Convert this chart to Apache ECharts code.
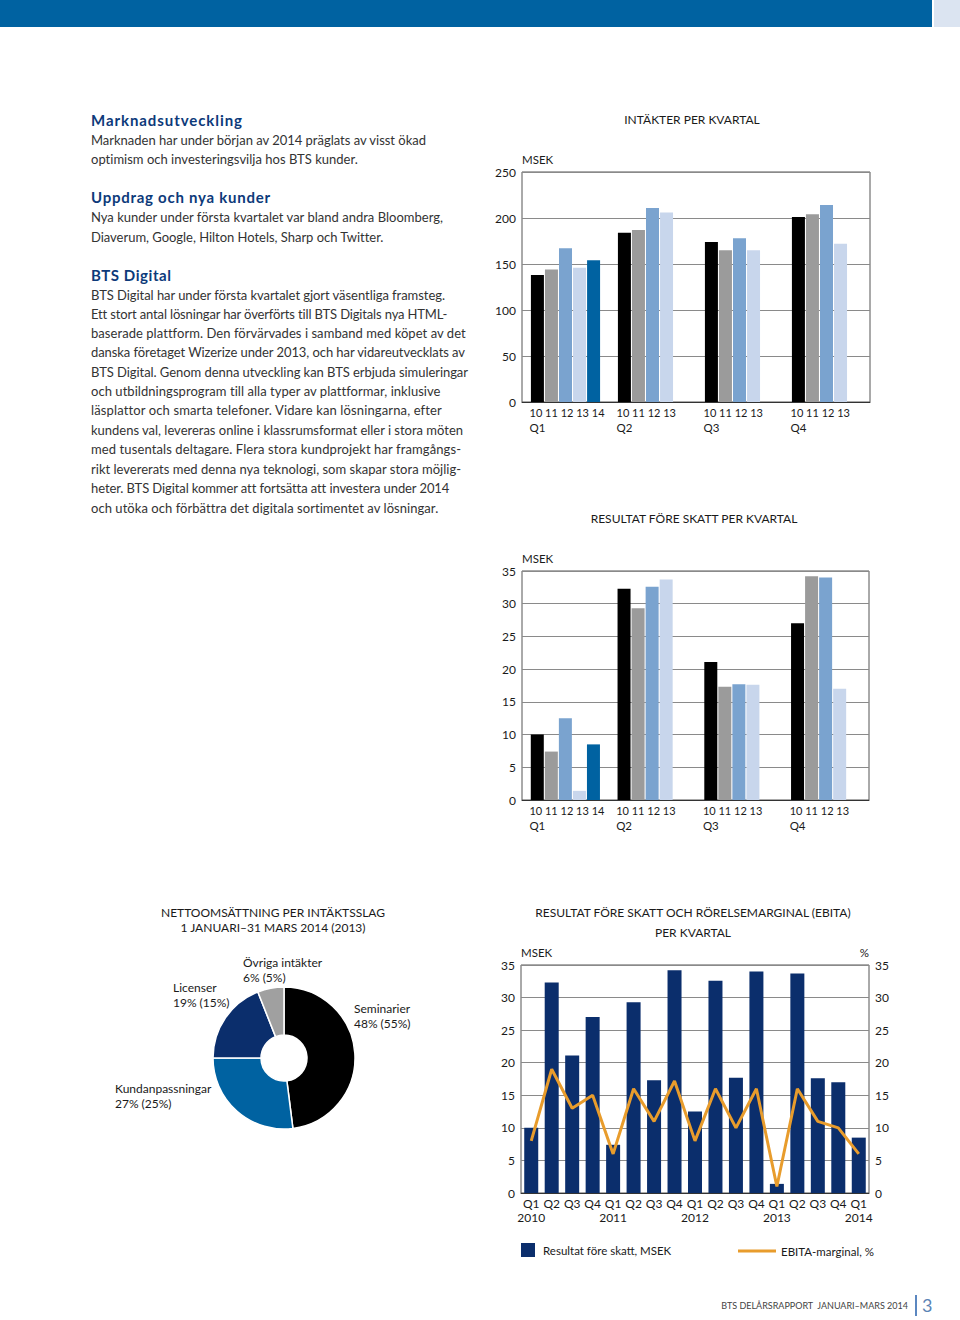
<!DOCTYPE html>
<html><head><meta charset="utf-8">
<script src="https://cdn.jsdelivr.net/npm/echarts@6/dist/echarts.min.js"></script>
<style>
html,body{margin:0;padding:0;background:#fff;}
body{width:960px;height:1320px;position:relative;overflow:hidden;font-family:Lato,'Open Sans',sans-serif;}
#chart{position:absolute;left:0;top:0;width:960px;height:1320px;}
.hdr{position:absolute;left:0;top:0;width:932px;height:27px;background:#0062a1;}
.hdr2{position:absolute;left:934px;top:0;width:26px;height:27px;background:#dbe4f1;}
.ln{position:absolute;white-space:nowrap;font-size:13px;color:#333;line-height:19px;height:19px;}
.hd{font-weight:700;color:#0d3a7a;font-size:15px;}
.foot{position:absolute;white-space:nowrap;font-size:9px;color:#444;line-height:12px;}
.pg{position:absolute;left:922px;top:1294px;font-size:18px;color:#5b83b5;line-height:22px;}
.bar{position:absolute;left:915px;top:1295px;width:2px;height:21px;background:#5b87c0;}
</style></head>
<body>
<div class="hdr"></div><div class="hdr2"></div>
<div id="chart"></div>
<div id="text"></div>
<div class="foot" id="foot">BTS DELÅRSRAPPORT&nbsp;&nbsp;JANUARI–MARS 2014</div>
<div class="bar"></div><div class="pg">3</div>
<script>
// ---------- DATA ----------
const quarters = ['Q1', 'Q2', 'Q3', 'Q4'];
const yearNames = ['10', '11', '12', '13', '14'];
const yearLabels = ['10 11 12 13 14', '10 11 12 13', '10 11 12 13', '10 11 12 13'];

const rev2010 = [138, 184, 174, 201];
const rev2011 = [144, 187, 165, 204];
const rev2012 = [167, 211, 178, 214];
const rev2013 = [146, 206, 165, 172];
const rev2014 = [154, null, null, null];

const ebt2010 = [10.0, 32.3, 21.1, 27.0];
const ebt2011 = [7.4, 29.3, 17.3, 34.2];
const ebt2012 = [12.5, 32.6, 17.7, 34.0];
const ebt2013 = [1.4, 33.7, 17.6, 17.0];
const ebt2014 = [8.5, null, null, null];

const periodQuarters = ['Q1','Q2','Q3','Q4','Q1','Q2','Q3','Q4','Q1','Q2','Q3','Q4','Q1','Q2','Q3','Q4','Q1'];
const periodYears = ['2010','','','','2011','','','','2012','','','','2013','','','','2014'];
const ebtSeries = [10.0, 32.3, 21.1, 27.0, 7.4, 29.3, 17.3, 34.2, 12.5, 32.6, 17.7, 34.0, 1.4, 33.7, 17.6, 17.0, 8.5];
const ebitaMargin = [8, 19, 13, 15, 6, 16, 11, 17.2, 8, 16, 10, 16, 1, 16, 11, 10, 6];

const pieNames = ['Seminarier', 'Kundanpassningar', 'Licenser', 'Övriga intäkter'];
const pieValues = [48, 27, 19, 6];
const piePrev = [55, 25, 15, 5];

// ---------- TEXT ----------
const textLines = [
 ['Marknadsutveckling', 121, 242, 1],
 ['Marknaden har under början av 2014 präglats av visst ökad', 141, 426, 0],
 ['optimism och investeringsvilja hos BTS kunder.', 160, 358, 0],
 ['Uppdrag och nya kunder', 198, 270, 1],
 ['Nya kunder under första kvartalet var bland andra Bloomberg,', 218, 443, 0],
 ['Diaverum, Google, Hilton Hotels, Sharp och Twitter.', 238, 383, 0],
 ['BTS Digital', 276, 171, 1],
 ['BTS Digital har under första kvartalet gjort väsentliga framsteg.', 296, 445, 0],
 ['Ett stort antal lösningar har överförts till BTS Digitals nya HTML-', 315, 447, 0],
 ['baserade plattform. Den förvärvades i samband med köpet av det', 334, 465, 0],
 ['danska företaget Wizerize under 2013, och har vidareutvecklats av', 353, 465, 0],
 ['BTS Digital. Genom denna utveckling kan BTS erbjuda simuleringar', 373, 468, 0],
 ['och utbildningsprogram till alla typer av plattformar, inklusive', 392, 440, 0],
 ['läsplattor och smarta telefoner. Vidare kan lösningarna, efter', 411, 441, 0],
 ['kundens val, levereras online i klassrumsformat eller i stora möten', 431, 463, 0],
 ['med tusentals deltagare. Flera stora kundprojekt har framgångs-', 450, 461, 0],
 ['rikt levererats med denna nya teknologi, som skapar stora möjlig-', 470, 461, 0],
 ['heter. BTS Digital kommer att fortsätta att investera under 2014', 489, 448, 0],
 ['och utöka och förbättra det digitala sortimentet av lösningar.', 509, 438, 0]
];
const tdiv = document.getElementById('text');
textLines.forEach(function (l) {
  const s = document.createElement('span');
  s.className = 'ln' + (l[3] ? ' hd' : '');
  s.textContent = l[0];
  s.style.left = '91px';
  s.style.top = (l[1] - 10) + 'px';
  tdiv.appendChild(s);
  const w = s.getBoundingClientRect().width;
  const target = l[2] - 91;
  const ls = (target - w) / Math.max(1, l[0].length - 1);
  s.style.letterSpacing = Math.max(-1.2, Math.min(1.2, ls)) + 'px';
});
(function () {
  const f = document.getElementById('foot');
  f.style.top = '1300px';
  const w = f.getBoundingClientRect().width;
  f.style.left = (908 - w) + 'px';
})();

// ---------- CHART ----------
const FONT = 'Lato';
const TXT = '#1a1a1a';
const colors = ['#000000', '#9b9b9b', '#7aa3cf', '#c8d6ec', '#0062a1'];
const chart = echarts.init(document.getElementById('chart'), null, {renderer: 'svg'});

function groupedAxisLabel() {
  return {
    interval: 0, margin: 3, color: TXT, fontFamily: FONT,
    formatter: function (v, i) { return '{n|' + yearLabels[i] + '}\n{q|' + v + '}'; },
    rich: {
      n: {width: 72, align: 'left', fontSize: 11, lineHeight: 14, fontFamily: FONT, color: TXT},
      q: {width: 72, align: 'left', fontSize: 11.5, lineHeight: 16, fontFamily: FONT, color: TXT}
    }
  };
}
function valueAxis(grid, max, interval, extra) {
  return Object.assign({
    type: 'value', gridIndex: grid, min: 0, max: max, interval: interval,
    axisLine: {show: false}, axisTick: {show: false},
    axisLabel: {color: TXT, fontSize: 12, margin: 6, fontFamily: FONT},
    splitLine: {show: true, lineStyle: {color: '#8a8a8a', width: 1}},
    nameTextStyle: {color: TXT, fontSize: 11.5, fontFamily: FONT, align: 'left'},
    nameGap: 7
  }, extra || {});
}
const catAxisBase = {
  type: 'category', axisTick: {show: false},
  axisLine: {show: true, lineStyle: {color: '#333', width: 1}}
};

const rev = [rev2010, rev2011, rev2012, rev2013, rev2014];
const ebt = [ebt2010, ebt2011, ebt2012, ebt2013, ebt2014];

const series = [];
rev.forEach(function (d, k) {
  series.push({type: 'bar', name: 'rev' + yearNames[k], xAxisIndex: 0, yAxisIndex: 0, data: d,
    barWidth: 13, barGap: '8%', itemStyle: {color: colors[k]}, silent: true});
});
ebt.forEach(function (d, k) {
  series.push({type: 'bar', name: 'ebt' + yearNames[k], xAxisIndex: 1, yAxisIndex: 1, data: d,
    barWidth: 13, barGap: '8%', itemStyle: {color: colors[k]}, silent: true});
});
series.push({type: 'bar', name: 'Resultat före skatt, MSEK', xAxisIndex: 2, yAxisIndex: 2, data: ebtSeries,
  barWidth: 14, itemStyle: {color: '#0b2e6c'}, silent: true});
series.push({type: 'line', name: 'EBITA-marginal, %', xAxisIndex: 2, yAxisIndex: 3, data: ebitaMargin,
  symbol: 'none', lineStyle: {color: '#e89c2c', width: 3}, itemStyle: {color: '#e89c2c'}, silent: true, z: 5});

const pieLabelPos = [[354, 1001], [115, 1081], [173, 980], [243, 955]];
series.push({
  type: 'pie', center: [284, 1058], radius: [23, 71], startAngle: 90, clockwise: true,
  silent: true, avoidLabelOverlap: false,
  data: pieNames.map(function (n, i) {
    return {name: n, value: pieValues[i], itemStyle: {color: ['#000000', '#0062a1', '#0b2e6c', '#a0a0a0'][i]}};
  }),
  itemStyle: {borderColor: '#fff', borderWidth: 1.5},
  label: {show: true, position: 'outside', fontSize: 12, lineHeight: 15, color: TXT, fontFamily: FONT,
    formatter: function (p) { return p.name + '\n' + pieValues[p.dataIndex] + '% (' + piePrev[p.dataIndex] + '%)'; }},
  labelLine: {show: false},
  labelLayout: function (p) {
    const pos = pieLabelPos[p.dataIndex];
    return {x: pos[0], y: pos[1], align: 'left', verticalAlign: 'top', moveOverlap: null};
  }
});

function gtext(txt, x, y, size, align) {
  return {type: 'text', x: x, y: y, silent: true,
    style: {text: txt, align: align || 'center', verticalAlign: 'middle', fontSize: size || 12,
      fontFamily: FONT, fill: TXT}};
}

const option = {
  animation: false,
  textStyle: {fontFamily: FONT},
  grid: [
    {left: 522, top: 172, width: 348, height: 230, show: true, borderColor: '#555', borderWidth: 1, containLabel: false},
    {left: 522, top: 571, width: 347, height: 229, show: true, borderColor: '#555', borderWidth: 1, containLabel: false},
    {left: 521, top: 965, width: 348, height: 228, show: true, borderColor: '#555', borderWidth: 1, containLabel: false}
  ],
  xAxis: [
    Object.assign({gridIndex: 0, data: quarters, axisLabel: groupedAxisLabel()}, catAxisBase),
    Object.assign({gridIndex: 1, data: quarters, axisLabel: groupedAxisLabel()}, catAxisBase),
    Object.assign({gridIndex: 2, data: periodQuarters,
      axisLabel: {interval: 0, margin: 3, color: TXT, fontSize: 12, lineHeight: 14, fontFamily: FONT,
        formatter: function (v, i) { return periodYears[i] ? v + '\n' + periodYears[i] : v; }}}, catAxisBase)
  ],
  yAxis: [
    valueAxis(0, 250, 50, {name: 'MSEK'}),
    valueAxis(1, 35, 5, {name: 'MSEK'}),
    valueAxis(2, 35, 5, {name: 'MSEK'}),
    valueAxis(2, 35, 5, {position: 'right', name: '%', splitLine: {show: false},
      nameTextStyle: {color: TXT, fontSize: 11.5, fontFamily: FONT, align: 'right'}})
  ],
  legend: [
    {data: ['Resultat före skatt, MSEK'], left: 521, top: 1243, itemWidth: 14, itemHeight: 14, icon: 'rect',
      itemGap: 0, padding: 0, selectedMode: false, textStyle: {fontSize: 11.5, color: TXT, fontFamily: FONT, padding: [0, 0, 0, 3]}},
    {data: ['EBITA-marginal, %'], left: 738, top: 1245, itemWidth: 38, itemHeight: 3, icon: 'rect',
      itemGap: 0, padding: 0, selectedMode: false, textStyle: {fontSize: 11.5, color: TXT, fontFamily: FONT, padding: [0, 0, 0, 0]}}
  ],
  graphic: [
    gtext('INTÄKTER PER KVARTAL', 692, 119, 12),
    gtext('RESULTAT FÖRE SKATT PER KVARTAL', 694, 518, 12),
    gtext('RESULTAT FÖRE SKATT OCH RÖRELSEMARGINAL (EBITA)', 693, 912, 12),
    gtext('PER KVARTAL', 693, 932, 12),
    gtext('NETTOOMSÄTTNING PER INTÄKTSSLAG', 273, 912, 12),
    gtext('1 JANUARI–31 MARS 2014 (2013)', 273, 927, 12)
  ],
  series: series
};
chart.setOption(option);
</script>
</body></html>
